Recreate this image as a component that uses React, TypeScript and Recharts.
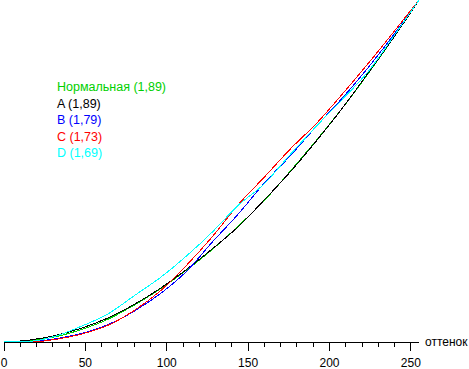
import { Legend, Line, LineChart, XAxis, YAxis } from "recharts";

// input level (0..255) at which each curve was read
const levels = [0, 16, 32, 48, 64, 80, 96, 112, 128, 144, 160, 176, 192, 208, 224, 240, 255];

const normal = [0, 1, 4, 9.5, 17, 27.5, 39.5, 53.5, 69, 86.5, 105.5, 127.5, 150.5, 174.5, 200.5, 228, 255];
const seriesA = [0, 1.5, 5, 10.5, 18, 28, 40, 54, 69.5, 86, 106, 127, 150, 174.5, 201, 228, 255];
const seriesB = [0, 0.3, 2.5, 6.5, 13, 23, 36, 52.5, 74.5, 95.5, 118.5, 139, 161, 182, 205, 230, 255];
const seriesC = [0, 0, 2, 6, 12.5, 23.5, 38, 57, 78.5, 102.5, 123, 144, 163, 185, 208, 232, 255];
const seriesD = [0, 0.5, 4.5, 12, 21, 34.5, 48, 64, 82, 102, 118, 140, 161, 181, 202, 229, 255];

const xTicks = [0, 10, 20, 30, 40, 50, 60, 70, 80, 90, 100, 110, 120, 130, 140, 150, 160, 170, 180, 190, 200, 210, 220, 230, 240, 250];

const names = ["Нормальная (1,89)", "A (1,89)", "B (1,79)", "C (1,73)", "D (1,69)"];
const keys = ["normal", "a", "b", "c", "d"];
const COLORS = ["#00d000", "#000000", "#0000ff", "#ff0000", "#00ffff"];

const data = levels.map((v, i) => ({
  v,
  normal: normal[i],
  a: seriesA[i],
  b: seriesB[i],
  c: seriesC[i],
  d: seriesD[i],
}));

const FONT = "'Liberation Sans', Arial, sans-serif";

const AxisTick = ({ x, y, payload }: any) => {
  const major = payload.value % 50 === 0;
  return (
    <g>
      <line
        x1={x}
        y1={y}
        x2={x}
        y2={y + (major ? 9 : 5)}
        stroke="#000"
        shapeRendering="crispEdges"
      />
      {major && (
        <text x={x} y={y + 25} textAnchor="middle" fontSize={12} fontFamily={FONT} fill="#000">
          {payload.value}
        </text>
      )}
    </g>
  );
};

const renderLegend = () => (
  <div style={{ fontFamily: FONT, fontSize: 12.5, lineHeight: "16.5px" }}>
    {names.map((n, i) => (
      <div key={n} style={{ color: COLORS[i], whiteSpace: "nowrap" }}>
        {n}
      </div>
    ))}
  </div>
);

const App = () => {
  return (
    <div style={{ position: "absolute", left: 0, top: 0, width: 469, height: 369, background: "#fff" }}>
      <LineChart
        width={469}
        height={369}
        data={data}
        margin={{ top: 0, right: 50, bottom: 0, left: 4 }}
      >
        <XAxis
          dataKey="v"
          type="number"
          domain={[0, 255]}
          ticks={xTicks}
          interval={0}
          height={27}
          tickSize={0}
          tickMargin={0}
          tick={<AxisTick />}
          axisLine={{ stroke: "#000", shapeRendering: "crispEdges" }}
          tickLine={false}
        />
        <YAxis hide type="number" domain={[0, 255]} />
        <Legend
          layout="vertical"
          align="center"
          verticalAlign="middle"
          content={renderLegend}
          wrapperStyle={{ left: 57, top: 79, width: "auto" }}
        />
        {keys.map((k, i) => (
          <Line
            key={k}
            dataKey={k}
            name={names[i]}
            type="monotone"
            stroke={COLORS[i]}
            strokeWidth={1}
            dot={false}
            activeDot={false}
            isAnimationActive={false}
            shapeRendering="crispEdges"
          />
        ))}
      </LineChart>
      <div
        style={{
          position: "absolute",
          left: 425,
          top: 335,
          fontFamily: FONT,
          fontSize: 12,
          color: "#000",
        }}
      >
        оттенок
      </div>
    </div>
  );
};

export default App;
